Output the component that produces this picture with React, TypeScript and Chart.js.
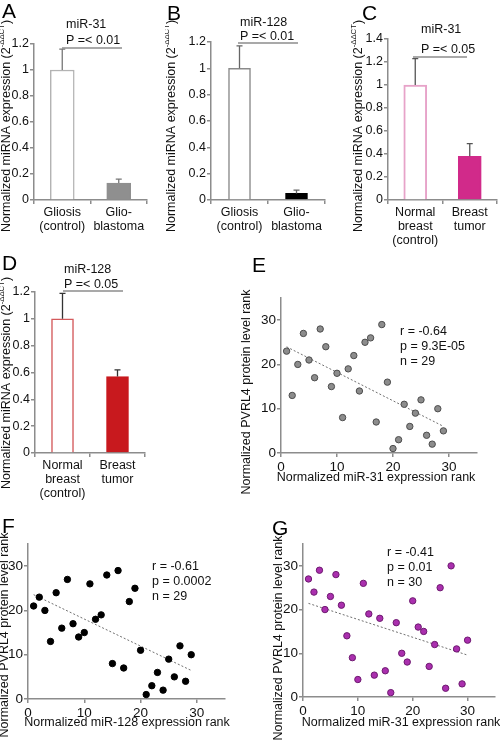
import React, { useEffect, useRef } from 'react';
import { Chart, registerables } from 'chart.js';

Chart.register(...registerables);

const FONT = "'Liberation Sans', Arial, Helvetica, sans-serif";
const AXIS_COLOR = '#8c8c8c';
const TEXT_COLOR = '#111111';

// ---------- Data ----------
// Panel A (miR-31, glioma)
const gliomaCategories = [['Gliosis', '(control)'], ['Glio-', 'blastoma']];
const aValues = [1.0, 0.13];
const aErrors = [0.16, 0.03];
// Panel B (miR-128, glioma)
const bValues = [1.0, 0.05];
const bErrors = [0.17, 0.025];
// Panel C (miR-31, breast)
const breastCategories = [['Normal', 'breast', '(control)'], ['Breast', 'tumor']];
const cValues = [1.0, 0.38];
const cErrors = [0.23, 0.11];
// Panel D (miR-128, breast)
const dValues = [1.0, 0.57];
const dErrors = [0.19, 0.05];

// Panel E
const eMiR31Rank = [1, 2, 3, 4, 5, 6, 7, 8, 9, 10, 11, 12, 13, 14, 15, 16, 17, 18, 19, 20, 21, 22, 23, 24, 25, 26, 27, 28, 29];
const ePvrl4Rank = [23, 13, 20, 27, 21, 17, 28, 24, 15, 18, 8, 19, 22, 14, 25, 26, 7, 29, 16, 1, 3, 11, 6, 9, 12, 4, 2, 10, 5];
const eStats = ['r = -0.64', 'p = 9.3E-05', 'n = 29'];
// Panel F
const fMiR128Rank = [1, 2, 3, 4, 5, 6, 7, 8, 9, 10, 11, 12, 13, 14, 15, 16, 17, 18, 19, 20, 21, 22, 23, 24, 25, 26, 27, 28, 29];
const fPvrl4Rank = [21, 23, 20, 13, 24, 16, 27, 17, 14, 15, 26, 18, 19, 28, 8, 29, 7, 22, 25, 11, 1, 3, 6, 2, 9, 5, 12, 4, 10];
const fStats = ['r = -0.61', 'p = 0.0002', 'n = 29'];
// Panel G
const gMiR31Rank = [1, 2, 3, 4, 5, 6, 7, 8, 9, 10, 11, 12, 13, 14, 15, 16, 17, 18, 19, 20, 21, 22, 23, 24, 25, 26, 27, 28, 29, 30];
const gPvrl4Rank = [27, 24, 29, 20, 23, 28, 21, 14, 9, 4, 26, 19, 5, 18, 6, 1, 17, 10, 8, 22, 16, 15, 7, 12, 25, 2, 30, 11, 3, 13];
const gStats = ['r = -0.41', 'p = 0.01', 'n = 30'];

const scatterTicks = [0, 10, 20, 30];

// ---------- Helpers ----------
type Box = { x: number; y: number; w: number; h: number };
type Area = { l: number; t: number; r: number; b: number };

function drawText(ctx: CanvasRenderingContext2D, box: Box, s: string, px: number, py: number, size = 12.5, align: CanvasTextAlign = 'left') {
  ctx.save();
  ctx.font = `${size}px ${FONT}`;
  ctx.fillStyle = TEXT_COLOR;
  ctx.textAlign = align;
  ctx.textBaseline = 'middle';
  ctx.fillText(s, px - box.x, py - box.y);
  ctx.restore();
}

function drawLetter(ctx: CanvasRenderingContext2D, box: Box, s: string, px: number, py: number) {
  ctx.save();
  ctx.font = `21px ${FONT}`;
  ctx.fillStyle = '#000';
  ctx.textAlign = 'left';
  ctx.textBaseline = 'top';
  ctx.fillText(s, px - box.x, py - box.y);
  ctx.restore();
}

function drawRotated(ctx: CanvasRenderingContext2D, box: Box, px: number, pyCenter: number, parts: { t: string; sup?: boolean }[], size = 12.5) {
  ctx.save();
  ctx.translate(px - box.x, pyCenter - box.y);
  ctx.rotate(-Math.PI / 2);
  ctx.fillStyle = TEXT_COLOR;
  ctx.textBaseline = 'middle';
  ctx.textAlign = 'left';
  const widths = parts.map((p) => {
    ctx.font = `${p.sup ? size * 0.62 : size}px ${FONT}`;
    return ctx.measureText(p.t).width;
  });
  const total = widths.reduce((a, b) => a + b, 0);
  let cur = -total / 2;
  parts.forEach((p, i) => {
    ctx.font = `${p.sup ? size * 0.62 : size}px ${FONT}`;
    ctx.fillText(p.t, cur, p.sup ? -size * 0.38 : 0);
    cur += widths[i];
  });
  ctx.restore();
}

function axisBase() {
  return {
    border: { display: true, color: AXIS_COLOR, width: 1.5 },
    grid: { drawOnChartArea: false, drawTicks: true, tickLength: 4, color: AXIS_COLOR, tickColor: AXIS_COLOR, lineWidth: 1.5, tickWidth: 1.5 },
  };
}

function trendLine(xs: number[], ys: number[]) {
  const n = xs.length;
  const mx = xs.reduce((a, b) => a + b, 0) / n;
  const my = ys.reduce((a, b) => a + b, 0) / n;
  let sxy = 0;
  let sxx = 0;
  for (let i = 0; i < n; i++) {
    sxy += (xs[i] - mx) * (ys[i] - my);
    sxx += (xs[i] - mx) * (xs[i] - mx);
  }
  const slope = sxy / sxx;
  const x0 = Math.min(...xs);
  const x1 = Math.max(...xs);
  return [
    { x: x0, y: my + slope * (x0 - mx) },
    { x: x1, y: my + slope * (x1 - mx) },
  ];
}

type BarPanel = {
  box: Box;
  area: Area;
  labels: string[][];
  values: number[];
  errors: number[];
  max: number;
  fill: string[];
  border: string[];
  borderWidth: number;
  barWidth: number;
  errColor: string;
  letter: [string, number, number];
  mir: string;
  pText: string;
  textX: number;
  mirY: number;
  pY: number;
  lineY: number;
  lineX: [number, number];
  yTitleX: number;
  yTitleY: number;
};

function barConfig(p: BarPanel): any {
  const extras = {
    id: 'extras',
    afterDatasetsDraw(chart: any) {
      const ctx = chart.ctx as CanvasRenderingContext2D;
      const meta = chart.getDatasetMeta(0);
      const ys = chart.scales.y;
      ctx.save();
      ctx.strokeStyle = p.errColor;
      ctx.lineWidth = 1.3;
      meta.data.forEach((el: any, i: number) => {
        const top = ys.getPixelForValue(p.values[i] + p.errors[i]);
        ctx.beginPath();
        ctx.moveTo(el.x, el.y);
        ctx.lineTo(el.x, top);
        ctx.moveTo(el.x - 3, top);
        ctx.lineTo(el.x + 3, top);
        ctx.stroke();
      });
      ctx.restore();
    },
    afterDraw(chart: any) {
      const ctx = chart.ctx as CanvasRenderingContext2D;
      const b = p.box;
      drawLetter(ctx, b, p.letter[0], p.letter[1], p.letter[2]);
      drawText(ctx, b, p.mir, p.textX, p.mirY);
      drawText(ctx, b, p.pText, p.textX, p.pY);
      ctx.save();
      ctx.strokeStyle = AXIS_COLOR;
      ctx.lineWidth = 1.5;
      ctx.beginPath();
      ctx.moveTo(p.lineX[0] - b.x, p.lineY - b.y);
      ctx.lineTo(p.lineX[1] - b.x, p.lineY - b.y);
      ctx.stroke();
      ctx.restore();
      drawRotated(ctx, b, p.yTitleX, p.yTitleY, [
        { t: 'Normalized miRNA expression (2' },
        { t: '-ΔΔCT', sup: true },
        { t: ')' },
      ]);
    },
  };
  const base = axisBase();
  return {
    type: 'bar',
    data: {
      labels: p.labels,
      datasets: [
        {
          data: p.values,
          backgroundColor: p.fill,
          borderColor: p.border,
          borderWidth: p.borderWidth,
          barThickness: p.barWidth,
        },
      ],
    },
    options: {
      responsive: false,
      animation: false,
      layout: { padding: { top: p.area.t - p.box.y, right: p.box.x + p.box.w - p.area.r, left: 0, bottom: 0 } },
      plugins: { legend: { display: false }, tooltip: { enabled: false } },
      scales: {
        x: {
          ...base,
          grid: { ...base.grid, offset: true },
          ticks: {
            color: TEXT_COLOR,
            font: { family: FONT, size: 12.5, lineHeight: 1.15 },
            padding: 1,
            maxRotation: 0,
            minRotation: 0,
            autoSkip: false,
          },
          afterFit: (s: any) => {
            s.height = p.box.y + p.box.h - p.area.b;
          },
        },
        y: {
          ...base,
          min: 0,
          max: p.max,
          ticks: {
            stepSize: 0.2,
            color: TEXT_COLOR,
            font: { family: FONT, size: 12.5 },
            padding: 1,
            callback: (v: number) => String(Math.round(v * 10) / 10),
          },
          afterFit: (s: any) => {
            s.width = p.area.l - p.box.x;
          },
        },
      },
    },
    plugins: [extras],
  };
}

type ScatterPanel = {
  box: Box;
  area: Area;
  xs: number[];
  ys: number[];
  fill: string;
  edge: string;
  stats: string[];
  statsX: number;
  statsY: number;
  letter: [string, number, number];
  xTitle: string;
  xTitleX: number;
  xTitleY: number;
  yTitleX: number;
  yTitleY: number;
};

function scatterConfig(p: ScatterPanel): any {
  const extras = {
    id: 'extras',
    afterDraw(chart: any) {
      const ctx = chart.ctx as CanvasRenderingContext2D;
      const b = p.box;
      drawLetter(ctx, b, p.letter[0], p.letter[1], p.letter[2]);
      p.stats.forEach((s, i) => drawText(ctx, b, s, p.statsX, p.statsY + i * 15));
      drawText(ctx, b, p.xTitle, p.xTitleX, p.xTitleY, 12.5, 'center');
      drawRotated(ctx, b, p.yTitleX, p.yTitleY, [{ t: 'Normalized PVRL4 protein level rank' }]);
    },
  };
  const base = axisBase();
  const tickOpts = {
    color: TEXT_COLOR,
    font: { family: FONT, size: 13.5 },
    padding: 1,
    stepSize: 10,
    includeBounds: false,
  };
  return {
    type: 'scatter',
    data: {
      datasets: [
        {
          data: p.xs.map((x, i) => ({ x, y: p.ys[i] })),
          pointRadius: 3.2,
          pointBackgroundColor: p.fill,
          pointBorderColor: p.edge,
          pointBorderWidth: 1,
          order: 0,
        },
        {
          data: trendLine(p.xs, p.ys),
          showLine: true,
          borderColor: '#6f6f6f',
          borderWidth: 1,
          borderDash: [2, 2],
          pointRadius: 0,
          order: 1,
        },
      ],
    },
    options: {
      responsive: false,
      animation: false,
      layout: { padding: { top: p.area.t - p.box.y, right: p.box.x + p.box.w - p.area.r, left: 0, bottom: 0 } },
      plugins: { legend: { display: false }, tooltip: { enabled: false } },
      scales: {
        x: {
          ...base,
          type: 'linear',
          min: 0,
          max: 35,
          ticks: { ...tickOpts, padding: 2 },
          afterBuildTicks: (s: any) => {
            s.ticks = scatterTicks.map((v) => ({ value: v }));
          },
          afterFit: (s: any) => {
            s.height = p.box.y + p.box.h - p.area.b;
          },
        },
        y: {
          ...base,
          type: 'linear',
          min: 0,
          max: 35,
          ticks: tickOpts,
          afterBuildTicks: (s: any) => {
            s.ticks = scatterTicks.map((v) => ({ value: v }));
          },
          afterFit: (s: any) => {
            s.width = p.area.l - p.box.x;
          },
        },
      },
    },
    plugins: [extras],
  };
}

function ChartCanvas({ box, make }: { box: Box; make: () => any }) {
  const ref = useRef<HTMLCanvasElement>(null);
  useEffect(() => {
    const chart = new Chart(ref.current as HTMLCanvasElement, make());
    return () => chart.destroy();
  }, []);
  return (
    <canvas
      ref={ref}
      width={box.w}
      height={box.h}
      style={{ position: 'absolute', left: box.x, top: box.y, width: box.w, height: box.h }}
    />
  );
}

// ---------- Panels ----------
const panelA: BarPanel = {
  box: { x: 0, y: 0, w: 165, h: 235 },
  area: { l: 34, t: 44, r: 147, b: 200 },
  labels: gliomaCategories,
  values: aValues,
  errors: aErrors,
  max: 1.2,
  fill: ['#ffffff', '#8f8f8f'],
  border: ['#b3b3b3', '#8f8f8f'],
  borderWidth: 1.5,
  barWidth: 24,
  errColor: '#777777',
  letter: ['A', 2, 2],
  mir: 'miR-31',
  pText: 'P =< 0.01',
  textX: 66,
  mirY: 25,
  pY: 41,
  lineY: 48,
  lineX: [62, 122],
  yTitleX: 7,
  yTitleY: 126,
};

const panelB: BarPanel = {
  box: { x: 165, y: 0, w: 170, h: 235 },
  area: { l: 211, t: 42, r: 325, b: 200 },
  labels: gliomaCategories,
  values: bValues,
  errors: bErrors,
  max: 1.2,
  fill: ['#ffffff', '#000000'],
  border: ['#8a8a8a', '#000000'],
  borderWidth: 1.5,
  barWidth: 22,
  errColor: '#666666',
  letter: ['B', 167, 4],
  mir: 'miR-128',
  pText: 'P =< 0.01',
  textX: 240,
  mirY: 23,
  pY: 37,
  lineY: 43,
  lineX: [238, 298],
  yTitleX: 172,
  yTitleY: 126,
};

const panelC: BarPanel = {
  box: { x: 330, y: 0, w: 170, h: 250 },
  area: { l: 388, t: 39, r: 497, b: 200 },
  labels: breastCategories,
  values: cValues,
  errors: cErrors,
  max: 1.4,
  fill: ['#ffffff', '#d12a8a'],
  border: ['#e7a3c9', '#d12a8a'],
  borderWidth: 2,
  barWidth: 23,
  errColor: '#555555',
  letter: ['C', 362, 4],
  mir: 'miR-31',
  pText: 'P =< 0.05',
  textX: 421,
  mirY: 30,
  pY: 50,
  lineY: 57,
  lineX: [413, 467],
  yTitleX: 359,
  yTitleY: 126,
};

const panelD: BarPanel = {
  box: { x: 0, y: 250, w: 165, h: 250 },
  area: { l: 35, t: 292, r: 145, b: 453 },
  labels: breastCategories,
  values: dValues,
  errors: dErrors,
  max: 1.2,
  fill: ['#ffffff', '#c8191e'],
  border: ['#d45a5c', '#c8191e'],
  borderWidth: 1.5,
  barWidth: 22,
  errColor: '#333333',
  letter: ['D', 2, 254],
  mir: 'miR-128',
  pText: 'P =< 0.05',
  textX: 64,
  mirY: 270,
  pY: 285,
  lineY: 291,
  lineX: [63, 123],
  yTitleX: 7,
  yTitleY: 383,
};

const panelE: ScatterPanel = {
  box: { x: 240, y: 250, w: 260, h: 250 },
  area: { l: 281, t: 298, r: 477, b: 453 },
  xs: eMiR31Rank,
  ys: ePvrl4Rank,
  fill: '#8c8c8c',
  edge: '#4d4d4d',
  stats: eStats,
  statsX: 400,
  statsY: 332,
  letter: ['E', 252, 256],
  xTitle: 'Normalized miR-31 expression rank',
  xTitleX: 376,
  xTitleY: 478,
  yTitleX: 247,
  yTitleY: 392,
};

const panelF: ScatterPanel = {
  box: { x: 0, y: 505, w: 250, h: 237 },
  area: { l: 28, t: 544, r: 225, b: 699 },
  xs: fMiR128Rank,
  ys: fPvrl4Rank,
  fill: '#000000',
  edge: '#000000',
  stats: fStats,
  statsX: 152,
  statsY: 567,
  letter: ['F', 2, 517],
  xTitle: 'Normalized miR-128 expression rank',
  xTitleX: 127,
  xTitleY: 723,
  yTitleX: 5,
  yTitleY: 635,
};

const panelG: ScatterPanel = {
  box: { x: 250, y: 505, w: 250, h: 237 },
  area: { l: 303, t: 544, r: 498, b: 697 },
  xs: gMiR31Rank,
  ys: gPvrl4Rank,
  fill: '#aa2fae',
  edge: '#6e1a70',
  stats: gStats,
  statsX: 387,
  statsY: 553,
  letter: ['G', 272, 519],
  xTitle: 'Normalized miR-31 expression rank',
  xTitleX: 401,
  xTitleY: 723,
  yTitleX: 279,
  yTitleY: 638,
};

export default function App() {
  return (
    <div style={{ position: 'absolute', left: 0, top: 0, width: 500, height: 742, background: '#ffffff', overflow: 'hidden' }}>
      <ChartCanvas box={panelA.box} make={() => barConfig(panelA)} />
      <ChartCanvas box={panelB.box} make={() => barConfig(panelB)} />
      <ChartCanvas box={panelC.box} make={() => barConfig(panelC)} />
      <ChartCanvas box={panelD.box} make={() => barConfig(panelD)} />
      <ChartCanvas box={panelE.box} make={() => scatterConfig(panelE)} />
      <ChartCanvas box={panelF.box} make={() => scatterConfig(panelF)} />
      <ChartCanvas box={panelG.box} make={() => scatterConfig(panelG)} />
    </div>
  );
}
